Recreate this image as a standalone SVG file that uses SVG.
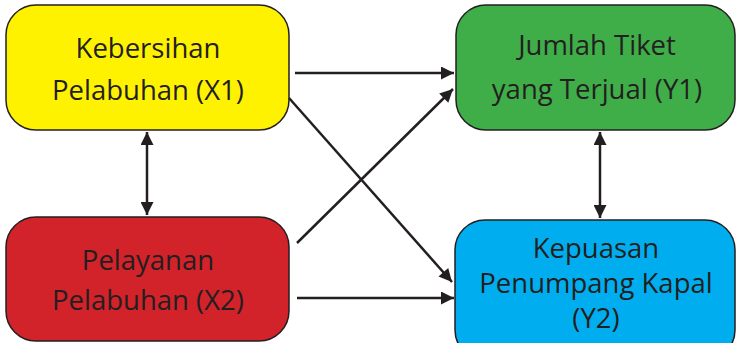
<svg xmlns="http://www.w3.org/2000/svg" width="737" height="343" viewBox="0 0 737 343">
<defs>
<style>
.box{stroke:#231f20;stroke-width:1.5}
.t{font-family:"Open Sans","Noto Sans",sans-serif;font-size:27.5px;fill:#231f20;text-anchor:middle}
.c{stroke:#231f20;stroke-width:2.5;fill:none}
</style>
<marker id="ah" viewBox="0 0 10 10" refX="10" refY="5" markerWidth="6.4" markerHeight="5.2" markerUnits="strokeWidth" orient="auto-start-reverse">
<path d="M0,0 L10,5 L0,10 z" fill="#231f20"/>
</marker>
</defs>
<rect width="737" height="343" fill="#ffffff"/>
<g id="x1">
<rect class="box" x="6" y="5" width="283" height="125" rx="30" fill="#fff200"/>
<text class="t" x="148" y="58">Kebersihan</text>
<text class="t" x="148" y="100">Pelabuhan (X1)</text>
</g>
<g id="x2">
<rect class="box" x="6" y="217" width="283" height="124" rx="30" fill="#d2232a"/>
<text class="t" x="148" y="270">Pelayanan</text>
<text class="t" x="148" y="310">Pelabuhan (X2)</text>
</g>
<g id="y1">
<rect class="box" x="456" y="5" width="279" height="125" rx="30" fill="#3fae49"/>
<text class="t" x="597" y="55">Jumlah Tiket</text>
<text class="t" x="597" y="99">yang Terjual (Y1)</text>
</g>
<g id="y2">
<rect class="box" x="455" y="220" width="280" height="140" rx="30" fill="#00aeef"/>
<text class="t" x="596" y="258">Kepuasan</text>
<text class="t" x="596" y="293">Penumpang Kapal</text>
<text class="t" x="596" y="328">(Y2)</text>
</g>
<g id="connectors">
<line class="c" x1="295" y1="73" x2="454" y2="73" marker-end="url(#ah)"/>
<line class="c" x1="297" y1="243" x2="453" y2="89" marker-end="url(#ah)"/>
<line class="c" x1="289" y1="98" x2="452" y2="282" marker-end="url(#ah)"/>
<line class="c" x1="297" y1="298" x2="454" y2="298" marker-end="url(#ah)"/>
<line class="c" x1="147" y1="132" x2="147" y2="215" marker-start="url(#ah)" marker-end="url(#ah)"/>
<line class="c" x1="600" y1="132" x2="600" y2="218" marker-start="url(#ah)" marker-end="url(#ah)"/>
</g>
</svg>
